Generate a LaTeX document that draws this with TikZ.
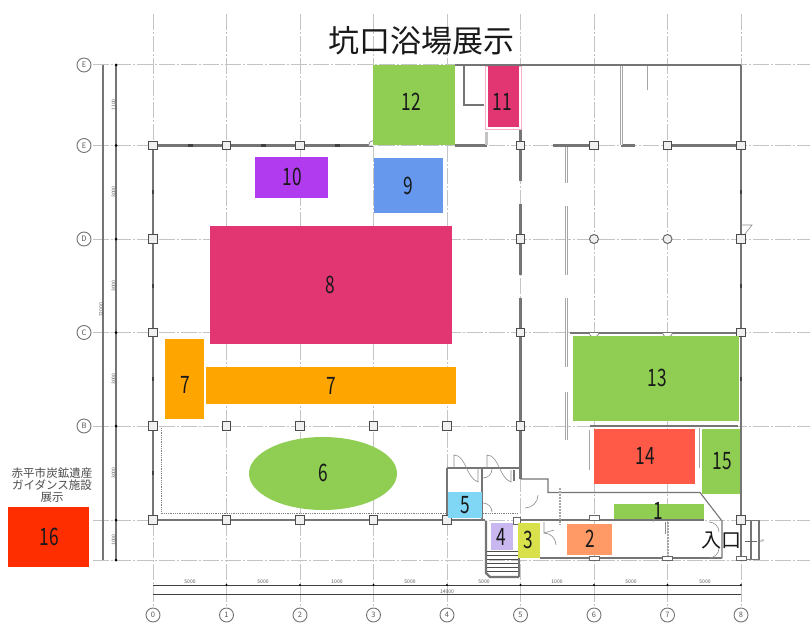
\documentclass[tikz,border=0pt]{standalone}
\usepackage{fontspec}
\setmainfont{Noto Sans CJK JP}
\usetikzlibrary{shapes.geometric}
\definecolor{grn}{HTML}{8FCE52}
\definecolor{pnk}{HTML}{E13672}
\definecolor{org}{HTML}{FFA500}
\definecolor{prp}{HTML}{B13BEF}
\definecolor{blu}{HTML}{6699EE}
\definecolor{red16}{HTML}{FF2E00}
\definecolor{red14}{HTML}{FF5A48}
\definecolor{sal}{HTML}{FF9966}
\definecolor{yel}{HTML}{D8E04C}
\definecolor{lav}{HTML}{C9B8F0}
\definecolor{sky}{HTML}{7FD6F5}
\definecolor{wallc}{HTML}{757575}
\definecolor{gridc}{HTML}{C4C4C4}
\tikzset{
  gridline/.style={draw=gridc,line width=1pt,dash pattern=on 16pt off 2pt on 2pt off 2pt},
  wall/.style={draw=wallc,line width=2.2pt},
  thinwall/.style={draw=wallc,line width=1.1pt},
  pale/.style={draw=black!35,line width=0.8pt,double=white,double distance=1pt},
  dimline/.style={draw=black!75,line width=1pt},
  dimlinev/.style={draw=wallc,line width=1.4pt},
  door/.style={draw=black!45,line width=0.6pt},
  col/.style={draw=black!70,fill=black!6,line width=1pt,minimum size=8.5pt,inner sep=0pt},
  colr/.style={draw=black!60,fill=black!6,line width=1pt,circle,minimum size=9pt,inner sep=0pt},
  axis/.style={circle,draw=black!55,line width=0.9pt,minimum size=14pt,inner sep=0pt,font=\fontsize{7.5}{7.5}\selectfont,text=black!65},
  dimtxt/.style={font=\fontsize{5}{5}\selectfont,text=black!65,inner sep=0pt},
  exhibit/.style={inner sep=0pt,font=\fontsize{24}{24}\selectfont,text=black!90},
  tick/.style={draw=black!75,line width=2.4pt},
}
\newcommand{\num}[1]{\scalebox{0.72}[1]{#1}}
% name, x1, y1, x2, y2, colour, label x, label y
\newcommand{\exbox}[8]{%
  \path[fill=#6] (#2,#3) rectangle (#4,#5);
  \node[exhibit] (n#1) at (#7,#8) {\num{#1}};
}
\begin{document}
\begin{tikzpicture}[x=1pt,y=-1pt]
\useasboundingbox (0,0) rectangle (810,623);
\fill[white] (0,0) rectangle (810,623);
% grid
\foreach \x in {153,226.5,300,373.5,447,520.5,594,667.5,741}
  \draw[gridline] (\x,14) -- (\x,606);
\foreach \y in {65,145.5,239,332.5,426,520,560}
  \draw[gridline] (93,\y) -- (810,\y);
% dimension lines
\draw[dimlinev] (103,65) -- (103,560);
\draw[dimlinev] (116,65) -- (116,560);
\draw[dimline] (153,585) -- (741,585);
\draw[dimline] (153,594.5) -- (741,594.5);
\foreach \y in {65,145.5,239,332.5,426,520,560}
  \fill[black] (116,\y) circle (1.5pt);
\foreach \x in {226.5,300,373.5,447,520.5,594,667.5,741}
  \fill[black] (\x,585) circle (1.2pt);
\foreach \y/\t in {105/1100,192/3000,286/3000,379/3000,473/3000,540/1000}
  \node[dimtxt,rotate=90] (dv\y) at (113.5,\y) {\t};
\node[dimtxt,rotate=90] (dvall) at (101,310) {22000};
\foreach \x/\t in {190/5000,263/5000,337/1000,410/5000,484/5000,557/1000,631/5000,705/5000}
  \node[dimtxt] (dh\x) at (\x,582) {\t};
\node[dimtxt] (dhall) at (447,591.5) {14000};
% walls
\draw[wall] (153,145.5) -- (373,145.5);
\draw[wall] (153,145.5) -- (153,520);
\draw[wall] (153,520) -- (485,520);
\draw[thinwall] (518,520) -- (704,520);
\draw[wall] (455,65) -- (741,65);
\draw[wall] (741,65) -- (741,558);
\draw[wall] (455,145.5) -- (487,145.5);
\draw[wall] (553,145.5) -- (594,145.5);
\draw[wall] (621,145.5) -- (635,145.5);
\draw[wall] (667.5,145.5) -- (741,145.5);
\draw[wall] (520.5,130) -- (520.5,181);
\draw[wall] (520.5,204) -- (520.5,275);
\draw[wall] (520.5,298) -- (520.5,479);
\draw[thinwall] (520.5,479) -- (548,479) -- (548,492.5) -- (700,492.5) -- (722,521) -- (722,558);
\draw[thinwall] (464,65) -- (464,105) -- (484,105);
\draw[wall,draw=gridc] (486.5,132) -- (486.5,145);
\draw[pale] (621.5,66) -- (621.5,145);
\draw[pale] (648,66) -- (648,90);
\draw[pale] (566.5,147) -- (566.5,183);
\draw[pale] (566.5,206) -- (566.5,275);
\draw[pale] (566.5,298) -- (566.5,367);
\draw[pale] (566.5,392) -- (566.5,440);
\draw[pale] (700,428) -- (700,468);
\draw[thinwall] (570,333) -- (741,333);
\draw[thinwall] (590,426) -- (738,426);
\draw[pale] (590,430) -- (590,470);
% wall ticks
\foreach \x in {190,263,337}
  \draw[tick] (\x-2.5,145.5) -- (\x+2.5,145.5);
\foreach \y in {192,286,379,473}
  \draw[tick] (153,\y-2) -- (153,\y+2);
\foreach \y in {192,286,379}
  \draw[tick] (741,\y-2) -- (741,\y+2);
% dotted inner line
\draw[black!50,line width=0.8pt,densely dotted] (161,428) -- (161,513) -- (518,513);
% rooms near stairs
\draw[thinwall] (447,468) -- (520.5,468);
\draw[thinwall] (447,468) -- (447,520);
\draw[thinwall] (482,468) -- (482,520);
\draw[thinwall] (514,470) -- (514,481);
% bottom corridor
\draw[thinwall] (540,558) -- (722,558);
\draw[wall] (519,517) -- (519,577);
\draw[wall] (486,521) -- (486,573) -- (490,577) -- (519,577);
\foreach \y in {551,555,559,563,567,571}
  \draw[black!70,line width=0.9pt] (487,\y) -- (518,\y);
\draw[black!35,line width=2pt,densely dotted] (559.5,488) -- (559.5,525);
\draw[black!35,line width=2pt,densely dotted] (668,522) -- (668,556);
% doors
\draw[door] (454,468) -- (454,455) .. controls (466,455) and (466,478) .. (478,482) -- (478,468);
\draw[door] (487,468) -- (487,455) .. controls (499,455) and (499,478) .. (511,482) -- (511,470);
\draw[door] (483,478) arc (90:0:9);
\draw[door] (483,503) arc (-90:0:9);
\draw[door] (525,508) arc (90:0:13);
\draw[door] (544,522) -- (544,533) -- (554,530);
\draw[door] (544,533) arc (-90:0:12);
\draw[door] (653,522) arc (180:270:12);
\draw[door] (665,534) -- (665,522);
\draw[door] (675,504) arc (0:45:14);
\draw[door] (709,522) arc (-90:0:10) -- (719,532);
\draw[door] (709,558) arc (90:0:10);
\draw[door] (741,239) -- (752,225) -- (741,225);
% entrance stairs
\draw[thinwall] (741,520.5) -- (759,520.5) -- (759,559.5) -- (741,559.5);
\draw[thinwall] (751,520.5) -- (751,559.5);
\draw[black!60,line width=0.6pt] (745,541) -- (757,541);
\node[font=\fontsize{3.5}{4}\selectfont,text=black!60,inner sep=0pt] (up) at (762,541) {UP};
% columns
\foreach \x/\y in {153/145.5,226.5/145.5,300/145.5,153/239,153/332.5,153/426,226.5/426,300/426,373.5/426,447/426,520.5/426,520.5/332.5,520.5/239,520.5/145.5,594/145.5,667.5/145.5,741/145.5,741/239,741/332.5,741/520,153/520,226.5/520,300/520,373.5/520,447/520}
  \node[col] at (\x,\y) {};
\foreach \x/\y in {594/239,667.5/239}
  \node[colr] at (\x,\y) {};
\foreach \x in {594,667.5,741}
  \fill[white,draw=black!60,line width=0.7pt] (\x-5,556) rectangle (\x+5,560);
\fill[white,draw=black!50,line width=0.7pt] (368.5,145.5) arc (180:360:5 and 5);
\fill[white,draw=black!50,line width=0.7pt] (589,333) arc (180:0:5 and 4);
\fill[white,draw=black!50,line width=0.7pt] (662.5,333) arc (180:0:5 and 4);
\fill[white,draw=black!60,line width=0.7pt] (589,520) rectangle (599,515);
\fill[white,draw=black!60,line width=0.7pt] (520,524) rectangle (513,517);
% axis labels
\foreach \x/\t in {153/0,226.5/1,300/2,373.5/3,447/4,520.5/5,594/6,667.5/7,741/8}
  \node[axis] (ax\t) at (\x,615) {\t};
\node[axis] (ayEa) at (84,65) {E};
\node[axis] (ayEb) at (84,145.5) {E};
\node[axis] (ayD) at (84,239) {D};
\node[axis] (ayC) at (84,332.5) {C};
\node[axis] (ayB) at (84,426) {B};
% exhibits
\path[fill=white,draw=pnk!40,line width=0.8pt] (485,66) rectangle (521,129);
\exbox{11}{488}{66}{519}{127}{pnk}{502}{102}
\exbox{12}{373}{65}{455}{145}{grn}{411}{102}
\exbox{8}{210}{226}{452}{344}{pnk}{330}{285}
\exbox{10}{255}{157}{328}{198}{prp}{292}{177}
\exbox{9}{374}{158}{443}{213}{blu}{408}{186}
\path[fill=org] (165,339) rectangle (204,419);
\node[exhibit] (n7a) at (185,385) {\num{7}};
\path[fill=org] (206,367) rectangle (456,404);
\node[exhibit] (n7b) at (331,386) {\num{7}};
\node[ellipse,fill=grn,minimum width=148pt,minimum height=73pt,inner sep=0pt] (e6) at (323,473.5) {};
\node[exhibit] (n6) at (323,473) {\num{6}};
\exbox{13}{573}{336}{739}{421}{grn}{657}{378}
\exbox{14}{594}{429}{695}{484}{red14}{645}{456}
\exbox{15}{702}{429}{740}{494}{grn}{722}{461}
\exbox{1}{614}{504}{704}{519}{grn}{658}{511}
\exbox{2}{567}{524}{612}{555}{sal}{590}{539}
\exbox{3}{518}{523}{540}{558}{yel}{528}{540}
\exbox{4}{491}{523}{513}{550}{lav}{501}{537}
\exbox{5}{448}{492}{482}{518}{sky}{465}{505}
\exbox{16}{8}{507}{89}{567}{red16}{49}{537}
% texts
\node[inner sep=0pt,font=\fontsize{31}{31}\selectfont,text=black!90] (title) at (421,41) {坑口浴場展示};
\node[inner sep=0pt,align=center,font=\fontsize{11.5}{12}\selectfont,text=black!70] (guide) at (52,485) {赤平市炭鉱遺産\\ガイダンス施設\\展示};
\node[inner sep=0pt,font=\fontsize{20}{20}\selectfont,text=black!90] (entry) at (721,540) {入口};
\end{tikzpicture}
\end{document}
